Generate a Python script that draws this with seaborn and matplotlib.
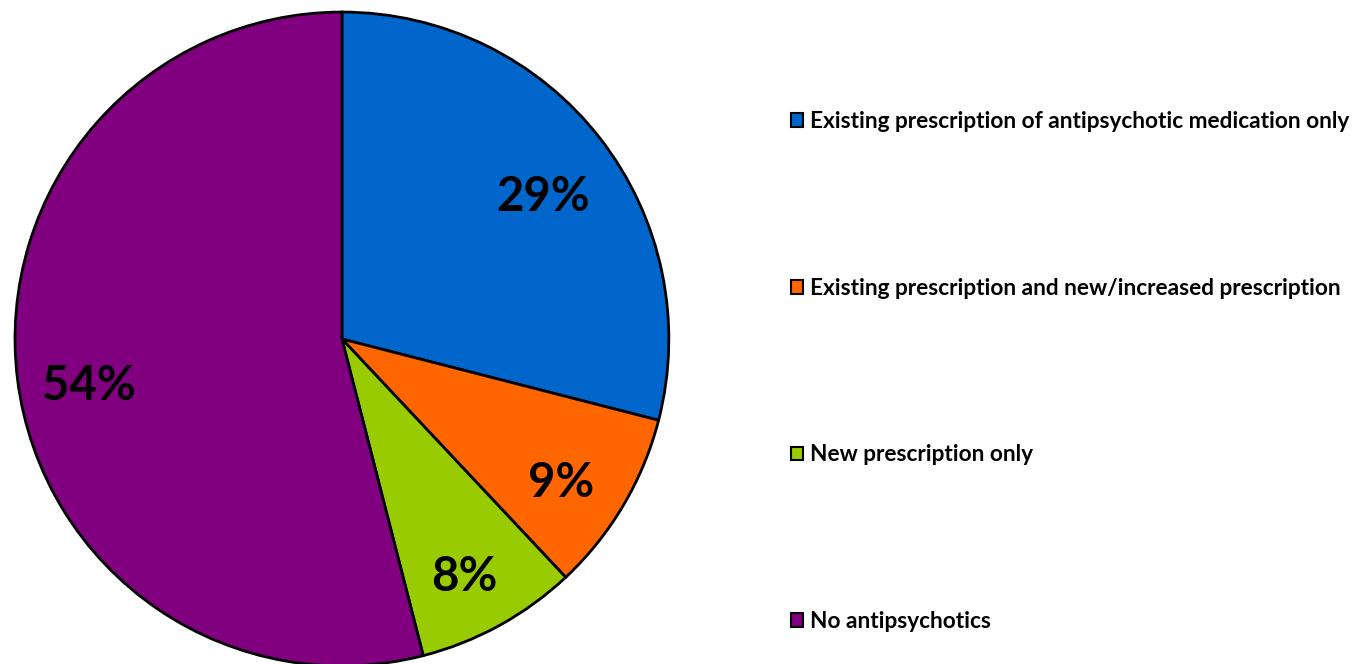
import matplotlib
matplotlib.use("Agg")
import matplotlib.pyplot as plt
from matplotlib.patches import Patch
import seaborn as sns

categories = [
    "Existing prescription of antipsychotic medication only",
    "Existing prescription and new/increased prescription",
    "New prescription only",
    "No antipsychotics",
]
shares = [29, 9, 8, 54]
colors = ["#0066CC", "#FF6600", "#99CC00", "#800080"]

sns.set_theme(style="white")
plt.rcParams["font.family"] = ["Lato", "DejaVu Sans"]
plt.rcParams["text.color"] = "black"

fig = plt.figure(figsize=(13.65, 6.64), dpi=100)
ax = fig.add_axes([0.011, -0.003, 0.479, 0.985])

wedges, texts, autotexts = ax.pie(
    shares,
    colors=colors,
    startangle=90,
    counterclock=False,
    autopct=lambda p: f"{p:.0f}%",
    pctdistance=0.78,
    wedgeprops=dict(edgecolor="black", linewidth=2, clip_on=False),
)
for t in autotexts:
    t.set_fontsize(34)
    t.set_fontweight("bold")
    t.set_color("black")
    x, y = t.get_position()
    t.set_position((x, y - 0.045))
ax.set_xlim(-1, 1)
ax.set_ylim(-1, 1)
ax.set_aspect("equal")

handles = [Patch(facecolor=c, edgecolor="black", linewidth=1.5) for c in colors]
fig.legend(
    handles,
    categories,
    loc="upper left",
    bbox_to_anchor=(0.571, 0.8495),
    frameon=False,
    prop=dict(family=["Lato", "DejaVu Sans"], weight="bold", size=16.3),
    labelcolor="black",
    handlelength=0.55,
    handleheight=0.55,
    handletextpad=0.3,
    labelspacing=6.43,
    borderpad=0,
)

fig.savefig("out.png", dpi=100)
